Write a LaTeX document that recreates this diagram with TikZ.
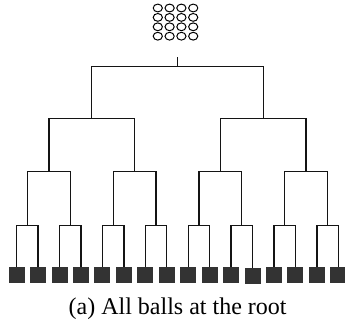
\documentclass[tikz,border=0pt]{standalone}
\usepackage{fontspec}
\setmainfont{Liberation Serif}
\begin{document}
\begin{tikzpicture}[x=1pt,y=-1pt,
  branch/.style={draw=black!92, line width=1.3pt},
  leafbox/.style={fill=black!80, draw=none, minimum width=16pt, minimum height=16pt, inner sep=0pt, anchor=north},
  ball/.style={draw=black, line width=1pt},
  capt/.style={anchor=base, inner sep=0pt, font=\fontsize{24}{28}\selectfont}]
\useasboundingbox (0,0) rectangle (345,324);

% sixteen balls waiting at the root
\foreach \r in {0,...,3}
  \foreach \c in {0,...,3}
    \draw[ball] ({157.8+11.8*\c},{8+9.4*\r}) ellipse [x radius=4.6pt, y radius=3.9pt];

% branching points of the tree
\coordinate (top) at (177.5,57);
\coordinate (n) at (177.5,66.7);
\foreach \k in {0,1}   \coordinate (a1-\k) at ({91.74+171.52*\k},118.7);
\foreach \k in {0,...,3} \coordinate (a2-\k) at ({48.86+85.76*\k},171.7);
\foreach \k in {0,...,7} \coordinate (a3-\k) at ({27.42+42.88*\k},225.7);

% leaf bins
\foreach \k in {0,...,15} {
  \pgfmathsetmacro\ly{\k==11 ? 268 : 266.7}
  \node[leafbox] (leaf\k) at ({16.7+21.44*\k},\ly) {};
}

% connectors
\draw[branch] (top) -- (n);
\foreach \k in {0,1} \draw[branch] (n) -| (a1-\k);
\foreach \k in {0,...,3} {
  \pgfmathtruncatemacro\p{\k/2}
  \draw[branch] (a1-\p) -| (a2-\k);
}
\foreach \k in {0,...,7} {
  \pgfmathtruncatemacro\p{\k/2}
  \draw[branch] (a2-\p) -| (a3-\k);
}
\foreach \k in {0,...,15} {
  \pgfmathtruncatemacro\p{\k/2}
  \draw[branch] (a3-\p) -| (leaf\k.north);
}

\node[capt] (caption) at (177.6,314.7) {(a) All balls at the root};
\end{tikzpicture}
\end{document}
